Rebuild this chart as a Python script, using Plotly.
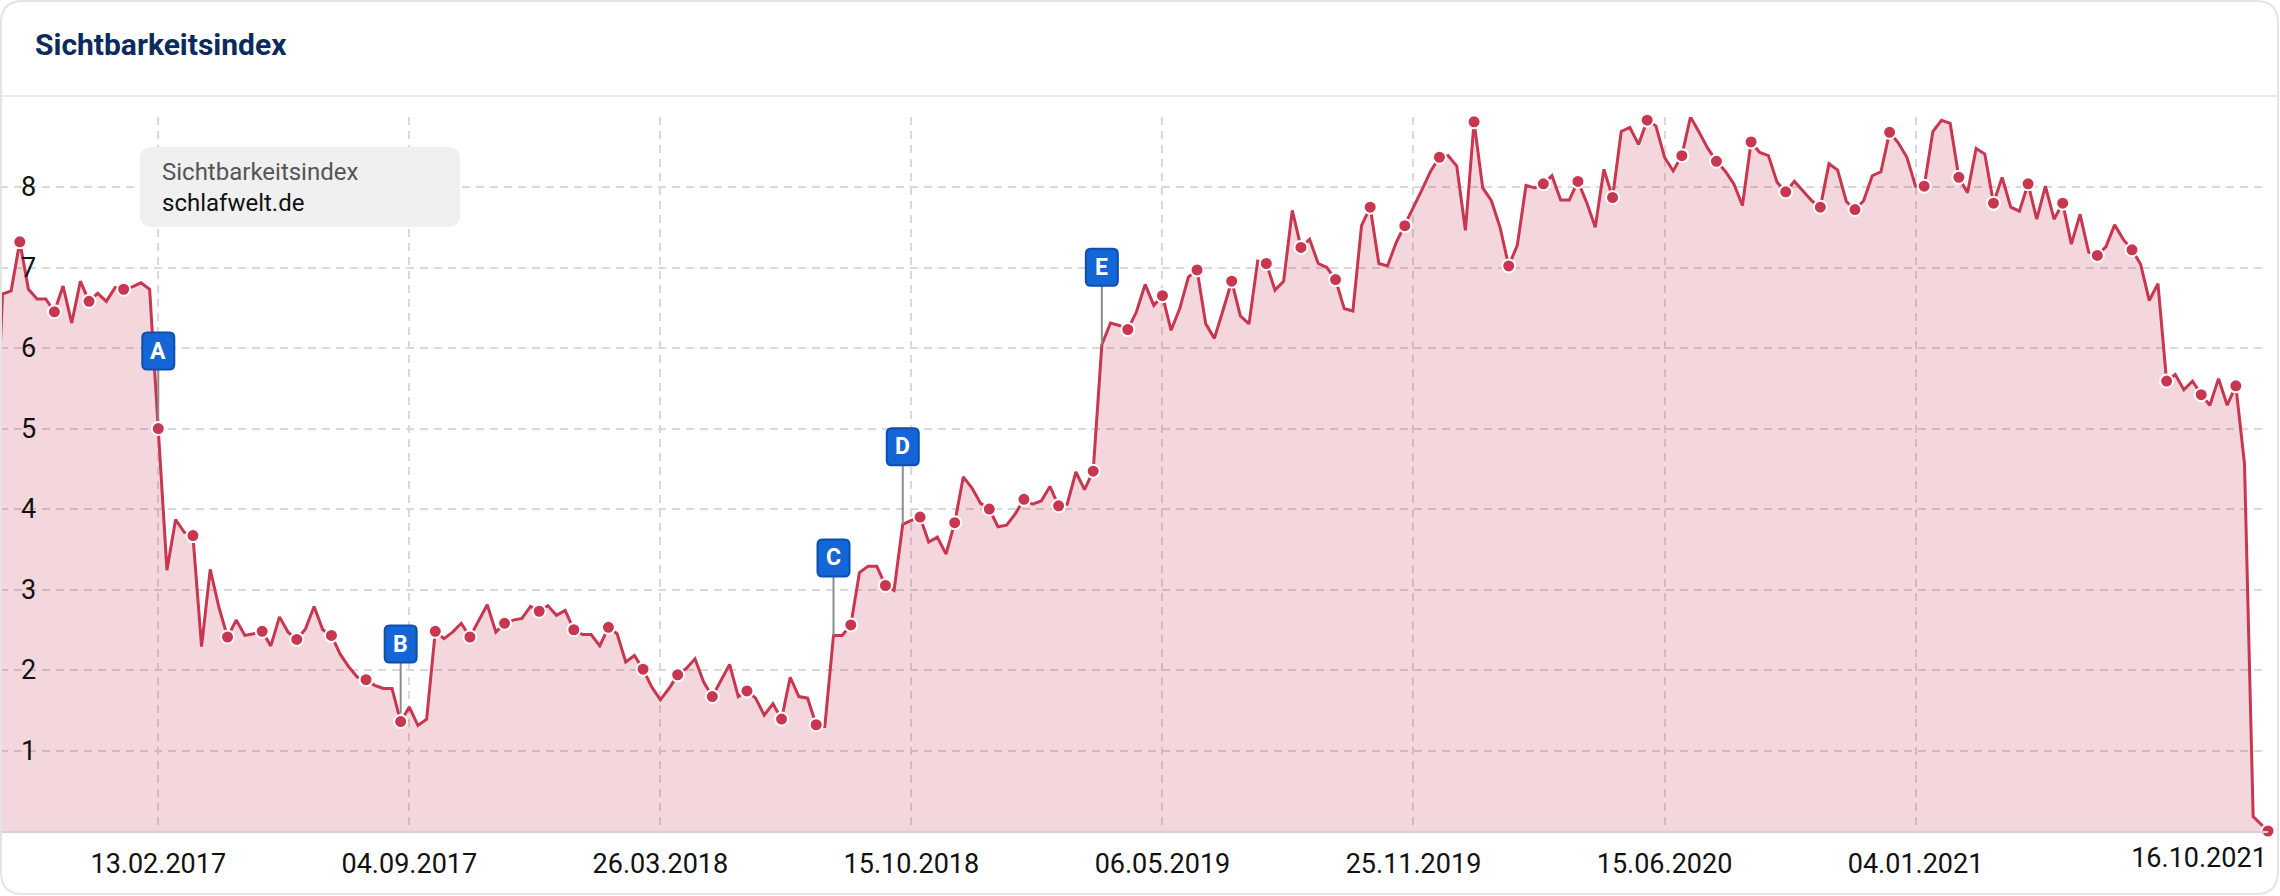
import plotly.graph_objects as go
import pandas as pd

# ---------------- data ----------------
first_date = "2016-10-08"
first_value = 5.9
weekly_start = "2016-10-10"
weekly_values = [
    6.67, 6.71, 7.32, 6.73, 6.61, 6.61, 6.45, 6.77, 6.31, 6.83,
    6.58, 6.68, 6.58, 6.75, 6.73, 6.76, 6.81, 6.73, 5.00, 3.24,
    3.87, 3.71, 3.67, 2.29, 3.25, 2.78, 2.41, 2.62, 2.43, 2.45,
    2.48, 2.30, 2.66, 2.47, 2.38, 2.51, 2.79, 2.50, 2.43, 2.20,
    2.04, 1.91, 1.88, 1.81, 1.77, 1.77, 1.36, 1.54, 1.31, 1.39,
    2.48, 2.39, 2.47, 2.58, 2.41, 2.62, 2.81, 2.47, 2.58, 2.62,
    2.64, 2.79, 2.73, 2.80, 2.68, 2.74, 2.50, 2.44, 2.44, 2.30,
    2.53, 2.45, 2.10, 2.18, 2.01, 1.79, 1.63, 1.77, 1.94, 2.02,
    2.14, 1.85, 1.67, 1.87, 2.07, 1.67, 1.74, 1.65, 1.44, 1.58,
    1.39, 1.91, 1.67, 1.65, 1.32, 1.30, 2.43, 2.43, 2.56, 3.21,
    3.29, 3.29, 3.05, 2.99, 3.81, 3.86, 3.90, 3.59, 3.65, 3.44,
    3.83, 4.40, 4.26, 4.07, 4.00, 3.78, 3.80, 3.94, 4.12, 4.06,
    4.10, 4.28, 4.04, 4.06, 4.46, 4.24, 4.47, 6.04, 6.31, 6.28,
    6.23, 6.45, 6.79, 6.53, 6.65, 6.22, 6.49, 6.88, 6.97, 6.30,
    6.12, 6.47, 6.83, 6.40, 6.30, 7.08, 7.05, 6.72, 6.83, 7.71,
    7.25, 7.35, 7.05, 7.00, 6.85, 6.49, 6.46, 7.52, 7.75, 7.05,
    7.02, 7.31, 7.52, 7.75, 7.97, 8.20, 8.37, 8.39, 8.26, 7.46,
    8.81, 7.99, 7.83, 7.50, 7.02, 7.28, 8.02, 7.99, 8.04, 8.14,
    7.84, 7.84, 8.07, 7.81, 7.50, 8.22, 7.87, 8.69, 8.74, 8.53,
    8.83, 8.76, 8.37, 8.20, 8.39, 8.87, 8.68, 8.48, 8.32, 8.20,
    8.04, 7.77, 8.56, 8.43, 8.39, 8.06, 7.94, 8.07, 7.95, 7.83,
    7.75, 8.29, 8.21, 7.82, 7.72, 7.83, 8.14, 8.19, 8.68, 8.55,
    8.37, 8.01, 8.01, 8.69, 8.83, 8.79, 8.12, 7.93, 8.48, 8.41,
    7.80, 8.12, 7.75, 7.70, 8.04, 7.60, 8.01, 7.60, 7.80, 7.29,
    7.66, 7.19, 7.15, 7.26, 7.53, 7.35, 7.22, 7.04, 6.59, 6.80,
    5.59, 5.67, 5.48, 5.59, 5.42, 5.29, 5.62, 5.29, 5.53, 4.56,
    0.18,
]
last_date = "2021-10-16"
last_value = 0.0

x_tick_dates = ["2017-02-13", "2017-09-04", "2018-03-26", "2018-10-15", "2019-05-06",
                "2019-11-25", "2020-06-15", "2021-01-04"]
x_tick_labels = ["13.02.2017", "04.09.2017", "26.03.2018", "15.10.2018", "06.05.2019",
                 "25.11.2019", "15.06.2020", "04.01.2021"]
last_tick_date = "2021-10-16"
last_tick_label = "16.10.2021"
y_ticks = [1, 2, 3, 4, 5, 6, 7, 8]

event_labels = ["A", "B", "C", "D", "E"]
event_dates = ["2017-02-13", "2017-08-28", "2018-08-13", "2018-10-08", "2019-03-18"]

series_name = "schlafwelt.de"
title_text = "Sichtbarkeitsindex"

# ---------------- build ----------------
weekly_dates = list(pd.date_range(weekly_start, periods=len(weekly_values), freq="7D"))
dates = [pd.Timestamp(first_date)] + weekly_dates + [pd.Timestamp(last_date)]
values = [first_value] + weekly_values + [last_value]

mk_dates = weekly_dates[2::4] + [pd.Timestamp(last_date)]
mk_values = weekly_values[2::4] + [last_value]
mk_set = set(mk_dates)

LINE = "#c8374f"
FILL = "rgba(200,55,80,0.2)"
GRID = "#d9d9d9"
FONT = "Roboto"
BOX = "#1466d6"
BOX_EDGE = "#0c4fae"

W, H = 2280, 896
PL, PR, PT, PB = 0, 12, 117, 65
PW, PH = W - PL - PR, H - PT - PB


def px(x):
    return (x - PL) / PW


def py(y):
    return (H - PB - y) / PH


def rrect_path(x0, y0, x1, y1, r, fx, fy):
    pts = [
        ("M", [(x0 + r, y0)]), ("L", [(x1 - r, y0)]), ("Q", [(x1, y0), (x1, y0 + r)]),
        ("L", [(x1, y1 - r)]), ("Q", [(x1, y1), (x1 - r, y1)]), ("L", [(x0 + r, y1)]),
        ("Q", [(x0, y1), (x0, y1 - r)]), ("L", [(x0, y0 + r)]), ("Q", [(x0, y0), (x0 + r, y0)]),
    ]
    s = ""
    for cmd, ps in pts:
        s += cmd + " " + " ".join(f"{fx(a):.6f},{fy(b):.6f}" for a, b in ps) + " "
    return s + "Z"


def rrect(x0, y0, x1, y1, r):
    return rrect_path(x0, y0, x1, y1, r, px, py)


fig = go.Figure()
fig.add_trace(go.Scatter(
    x=dates, y=values, mode="lines", fill="tozeroy", fillcolor=FILL,
    line=dict(color=LINE, width=3), name=series_name, showlegend=False, hoverinfo="x+y",
))
# helper trace so the overlay axis carrying the last tick label is drawn
fig.add_trace(go.Scatter(
    x=[pd.Timestamp(last_date)], y=[last_value], xaxis="x2", mode="markers",
    marker=dict(opacity=0), showlegend=False, hoverinfo="skip",
))

date_to_val = {d: v for d, v in zip(dates, values)}
annotations = []
shapes = []
for lab, d in zip(event_labels, event_dates):
    ts = pd.Timestamp(d)
    v = date_to_val[ts]
    start = 8 if ts in mk_set else 0
    shapes.append(dict(
        type="line", xref="x", yref="y", xsizemode="pixel", ysizemode="pixel",
        xanchor=ts, yanchor=v, x0=0, x1=0, y0=start, y1=60,
        line=dict(color="#8c8c8c", width=2), layer="above",
    ))
    shapes.append(dict(
        type="path", xref="x", yref="y", xsizemode="pixel", ysizemode="pixel",
        xanchor=ts, yanchor=v,
        path=rrect_path(-16, 59, 16, 96, 5, lambda a: a, lambda b: b),
        fillcolor=BOX, line=dict(color=BOX_EDGE, width=2), layer="above",
    ))
    annotations.append(dict(
        x=ts, y=v, xref="x", yref="y", text=f"<b>{lab}</b>", showarrow=False,
        yshift=77.5, xanchor="center", yanchor="middle",
        font=dict(family=FONT, size=23, color="white"),
    ))

annotations.append(dict(
    x=px(33), y=py(45), xref="paper", yref="paper", xanchor="left", yanchor="middle",
    text=f"<b>{title_text}</b>", showarrow=False,
    font=dict(family=FONT, size=30, color="#0b2b5c"),
))
annotations.append(dict(
    x=px(160), y=py(187), xref="paper", yref="paper", xanchor="left", yanchor="middle",
    align="left", showarrow=False,
    text=f"<span style='color:#555555'>{title_text}</span><br>{series_name}",
    font=dict(family=FONT, size=24, color="#111111"),
))

shapes += [
    dict(type="path", xref="paper", yref="paper", path=rrect(140, 147, 460, 227, 12),
         fillcolor="#f0f0f0", line=dict(width=0), layer="above"),
    dict(type="line", xref="paper", yref="paper", x0=px(1), x1=px(2278), y0=py(96), y1=py(96),
         line=dict(color="#e9e9e9", width=2)),
    dict(type="path", xref="paper", yref="paper", path=rrect(1, 1, 2278, 894, 22),
         line=dict(color="#e4e4e4", width=2), layer="above"),
]

# markers drawn last so they sit above the connector lines
fig.add_trace(go.Scatter(
    x=mk_dates, y=mk_values, mode="markers",
    marker=dict(size=13, color=LINE, line=dict(color="white", width=2)),
    showlegend=False, hoverinfo="skip", cliponaxis=False,
))

fig.update_layout(
    width=W, height=H,
    margin=dict(l=PL, r=PR, t=PT, b=PB),
    paper_bgcolor="white", plot_bgcolor="white",
    font=dict(family=FONT, size=27, color="#111111"),
    showlegend=False,
    hovermode="closest",
    xaxis=dict(
        type="date", range=[first_date, last_date],
        tickvals=[pd.Timestamp(d) for d in x_tick_dates] + [pd.Timestamp(last_tick_date)],
        ticktext=x_tick_labels + [""],
        showgrid=True, gridcolor=GRID, gridwidth=2, griddash="8px,6px",
        showline=True, linecolor="#dccfd2", linewidth=2,
        ticks="", ticklabelstandoff=8,
        tickfont=dict(family=FONT, size=27, color="#111111"),
        zeroline=False,
    ),
    xaxis2=dict(
        type="date", overlaying="x", matches="x", side="bottom",
        tickvals=[pd.Timestamp(last_tick_date)], ticktext=[last_tick_label],
        showgrid=False, showline=False, ticks="", ticklabelstandoff=8,
        ticklabelshift=-69,
        tickfont=dict(family=FONT, size=27, color="#111111"),
        zeroline=False,
    ),
    yaxis=dict(
        range=[0, 8.87], tickvals=y_ticks, ticktext=[str(v) for v in y_ticks],
        ticklabelposition="inside", ticks="", ticklabelstandoff=18,
        showgrid=True, gridcolor=GRID, gridwidth=2, griddash="8px,6px",
        zeroline=False, showline=False,
        tickfont=dict(family=FONT, size=27, color="#111111"),
    ),
    annotations=annotations,
    shapes=shapes,
)

fig.write_html("out.html", config={"displayModeBar": False},
               post_script="document.body.style.margin='0px';")
